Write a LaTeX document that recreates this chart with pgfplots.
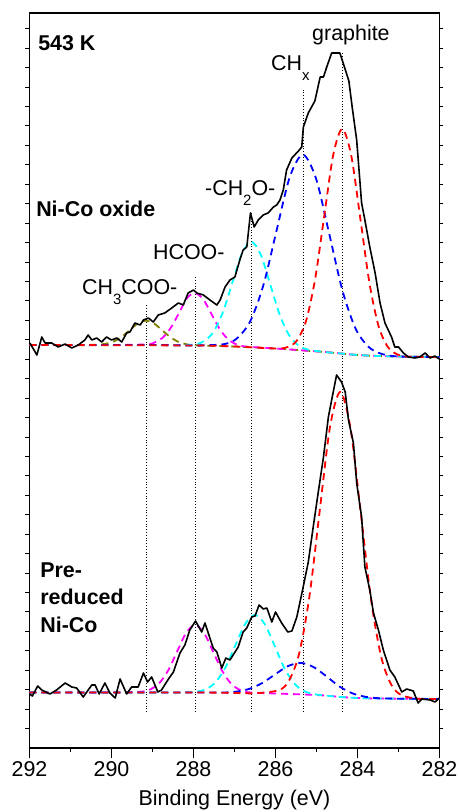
\documentclass[border=0pt]{standalone}
\usepackage{fontspec}
\setmainfont{Liberation Sans}
\usepackage{pgfplots}
\pgfplotsset{compat=1.18}
\definecolor{olv}{RGB}{128,128,0}
\definecolor{cyn}{RGB}{0,255,255}
\definecolor{mag}{RGB}{255,0,255}
\definecolor{rd}{RGB}{255,0,0}
\definecolor{bl}{RGB}{0,0,255}
\newcommand{\fs}{\fontsize{21.5}{25}\selectfont}
\begin{document}
\begin{tikzpicture}
\begin{axis}[
  scale only axis, width=410bp, height=735bp,
  xmin=282, xmax=292, x dir=reverse, ymin=0, ymax=735,
  axis line style={line width=1.4bp},
  xtick={283,285,...,291}, xticklabels={},
  extra x ticks={282,284,...,292},
  extra tick style={major tick length=10bp},
  xtick pos=bottom, tick align=outside,
  major tick length=4bp,
  every tick/.style={line width=1.3bp, black},
  ytick={19.44,38.88,...,730}, yticklabels={}, ytick pos=both,
  y tick style={line width=0.9bp},
  xticklabel style={font=\fs, /pgf/number format/assume math mode=true},
  /pgf/number format/assume math mode=true,
  xlabel={Binding Energy (eV)},
  xlabel style={font=\fs, at={(axis description cs:0.5,0)}, anchor=base, yshift=-57bp},
  every axis plot/.append style={line join=round},
  comp/.style={dash pattern=on 7bp off 5bp, line width=1.8bp, smooth},
]
% vertical dotted guide lines
\addplot[black, line width=0.6bp, dash pattern=on 0.8bp off 2bp] coordinates {(289.16,36) (289.16,444)};
\addplot[black, line width=0.6bp, dash pattern=on 0.8bp off 2bp] coordinates {(287.96,36) (287.96,471)};
\addplot[black, line width=0.6bp, dash pattern=on 0.8bp off 2bp] coordinates {(286.59,36) (286.59,536)};
\addplot[black, line width=0.6bp, dash pattern=on 0.8bp off 2bp] coordinates {(285.33,36) (285.33,659)};
\addplot[black, line width=0.6bp, dash pattern=on 0.8bp off 2bp] coordinates {(284.37,36) (284.37,695)};

% ---------------- upper spectrum components ----------------
% olive CH3COO-
\addplot[olv, comp] coordinates {(292,403) (291,403) (290.36,403.3) (290.16,404.1) (289.96,406.3) (289.76,410.9) (289.56,417.7) (289.36,424.4) (289.16,427.3) (288.96,424.4) (288.76,417.6) (288.56,410.7) (288.36,406.0) (288.16,403.6) (287.96,402.7) (287,401.5) (286,399.5) (285.3,397.5) (284.8,396) (284.4,394.5) (284,393) (283.5,392) (283,391.5) (282,391)};
% magenta HCOO-
\addplot[mag, comp] coordinates {(292,403) (290,403) (289.16,403.6) (288.96,405.3) (288.76,410.0) (288.56,419.8) (288.36,434.5) (288.16,449.8) (287.96,454.9) (287.76,448.5) (287.56,433.8) (287.36,418.9) (287.16,408.8) (286.96,403.7) (286.76,401.6) (286,399.5) (285.3,397.5) (284.8,396) (284.4,394.5) (284,393) (283.5,392) (283,391.5) (282,391)};
% cyan -CH2O-
\addplot[cyn, comp] coordinates {(292,403) (289,403) (288.5,402.75) (287.97,403.6) (287.74,406.9) (287.51,416.3) (287.28,436.1) (287.05,465.6) (286.82,494.3) (286.59,506.3) (286.36,493.4) (286.13,463.8) (285.90,433.5) (285.67,412.9) (285.44,402.5) (285.21,398.4) (284.8,396) (284.4,394.5) (284,393) (283.5,392) (283,391.5) (282,391)};
% blue CHx
\addplot[bl, comp] coordinates {(292,403) (289,403) (288,402.5) (287.25,403.9) (286.93,410.0) (286.61,427.2) (286.29,463.6) (285.97,518.1) (285.65,571.2) (285.33,593.3) (285.01,569.3) (284.69,514.3) (284.37,457.9) (284.05,419.6) (283.73,401.1) (283.41,394.1) (283,391.5) (282,391)};
% red graphite
\addplot[rd, comp] coordinates {(292,403) (288,402.5) (287,401.5) (286,399.5) (285.69,401.1) (285.47,407.9) (285.25,427.8) (285.03,469.7) (284.81,532.3) (284.59,593.5) (284.37,619.1) (284.15,591.9) (283.93,529.2) (283.71,465.4) (283.49,422.4) (283.27,401.6) (283.05,394.0) (282.8,391.4) (282,391)};

% ---------------- lower spectrum components ----------------
% magenta
\addplot[mag, comp] coordinates {(292,55.5) (290,55.5) (289.28,56.3) (289.06,58.5) (288.84,64.6) (288.62,77.4) (288.40,96.4) (288.18,115.1) (287.96,123.0) (287.74,114.9) (287.52,96.2) (287.30,77.1) (287.08,64.2) (286.86,57.9) (286.64,55.6) (286,54.5) (285.3,53.5) (284.8,52.5) (284.4,51) (284,50) (283.5,49.5) (282,49)};
% cyan
\addplot[cyn, comp] coordinates {(292,55.5) (288.5,55.5) (287.94,56.3) (287.70,58.8) (287.46,65.8) (287.22,80.5) (286.98,102.5) (286.74,124.0) (286.50,133.1) (286.26,123.7) (286.02,102.0) (285.78,79.6) (285.54,64.4) (285.30,56.9) (285.06,53.9) (284.8,52.5) (284.4,51) (284,50) (283.5,49.5) (282,49)};
% blue
\addplot[bl, comp] coordinates {(292,55.5) (288,55.5) (287.27,55.5) (286.955,56.4) (286.64,59.1) (286.325,64.9) (286.01,73.6) (285.695,81.9) (285.38,85.1) (285.065,80.8) (284.75,71.4) (284.435,61.4) (284.12,54.6) (283.805,51.2) (283.49,49.8) (283,49.3) (282,49)};
% red
\addplot[rd, comp] coordinates {(292,55.5) (288,55.5) (287,55) (286.5,54.75) (285.92,57.8) (285.67,67.4) (285.42,94.9) (285.17,152.3) (284.92,237.7) (284.67,321.2) (284.42,356.1) (284.17,319.6) (283.92,235.0) (283.67,148.7) (283.42,90.7) (283.17,62.8) (282.92,52.7) (282.5,49.2) (282,49)};

% ---------------- measured spectra ----------------
\addplot[black, line width=1.6bp] coordinates {(291.99,405) (291.82,393) (291.70,411) (291.62,405) (291.46,405) (291.30,401) (291.13,404) (290.97,400) (290.81,403) (290.65,408) (290.57,413) (290.48,408) (290.36,410) (290.24,406) (290.12,411) (290.00,408) (289.87,410) (289.75,406) (289.63,415) (289.55,416) (289.43,425) (289.30,423) (289.22,428) (289.10,430) (288.98,426) (288.86,433) (288.70,435) (288.53,440) (288.37,445) (288.25,443) (288.13,455) (288.00,458) (287.92,455) (287.76,453) (287.60,448) (287.43,443) (287.35,448) (287.23,461) (287.11,468) (286.99,471) (286.87,488) (286.79,498) (286.70,501) (286.61,535) (286.52,521) (286.42,528) (286.30,533) (286.18,535) (286.05,541) (285.97,543) (285.89,548) (285.81,558) (285.73,578) (285.60,590) (285.44,597) (285.36,601) (285.32,621) (285.20,635) (285.04,647) (284.91,671) (284.83,671) (284.75,681) (284.63,695) (284.43,695) (284.35,685) (284.21,667) (284.13,641) (284.02,608) (283.90,545) (283.82,528) (283.70,501) (283.57,475) (283.45,445) (283.33,425) (283.17,411) (283.09,401) (283.00,401) (282.88,395) (282.76,391) (282.60,390) (282.48,391) (282.35,395) (282.23,390) (282.11,392) (282.01,389)};
\addplot[black, line width=1.6bp] coordinates {(292.00,54) (291.93,52) (291.80,62) (291.70,58) (291.50,54) (291.34,58) (291.13,65) (290.97,61) (290.85,60) (290.69,51) (290.48,63) (290.40,63) (290.30,54) (290.16,65) (290.04,55) (289.91,50) (289.79,69) (289.63,54) (289.51,61) (289.35,61) (289.22,75) (289.12,66) (289.02,71) (288.87,56) (288.78,58) (288.61,69) (288.49,76) (288.33,95) (288.21,103) (288.09,118) (287.95,127) (287.80,116) (287.72,125) (287.52,100) (287.43,96) (287.31,80) (287.21,90) (287.11,88) (286.91,101) (286.79,116) (286.70,120) (286.58,131) (286.50,132) (286.40,143) (286.30,139) (286.21,140) (286.09,126) (286.00,136) (285.85,125) (285.70,116) (285.60,117) (285.48,131) (285.34,158) (285.20,186) (285.08,221) (284.96,255) (284.83,291) (284.71,331) (284.63,348) (284.51,373) (284.39,366) (284.30,356) (284.22,328) (284.10,305) (284.02,265) (283.90,231) (283.82,181) (283.70,158) (283.61,135) (283.49,118) (283.37,98) (283.21,78) (283.09,71) (282.92,56) (282.80,59) (282.64,57) (282.52,45) (282.43,49) (282.23,48) (282.11,46) (282.00,50)};

% ---------------- labels ----------------
\node[font=\fs\bfseries, anchor=base west, inner sep=0] at (axis cs:291.79,697) {543 K};
\node[font=\fs, anchor=base, inner sep=0] at (axis cs:284.16,707) {graphite};
\node[font=\fs, anchor=base west, inner sep=0] at (axis cs:286.11,677) {CH\raisebox{-0.45em}{\fontsize{15}{15}\selectfont x}};
\node[font=\fs, anchor=base west, inner sep=0] at (axis cs:287.72,552) {-CH\raisebox{-0.45em}{\fontsize{15}{15}\selectfont 2}O-};
\node[font=\fs, anchor=base west, inner sep=0] at (axis cs:288.99,488) {HCOO-};
\node[font=\fs, anchor=base west, inner sep=0] at (axis cs:290.72,453) {CH\raisebox{-0.45em}{\fontsize{15}{15}\selectfont 3}COO-};
\node[font=\fs\bfseries, anchor=base west, inner sep=0] at (axis cs:291.84,531) {Ni-Co oxide};
\node[font=\fs\bfseries, anchor=base west, inner sep=0] at (axis cs:291.74,170) {Pre-};
\node[font=\fs\bfseries, anchor=base west, inner sep=0] at (axis cs:291.74,143) {reduced};
\node[font=\fs\bfseries, anchor=base west, inner sep=0] at (axis cs:291.74,115) {Ni-Co};

\coordinate (ll) at (axis cs:292,0);
\coordinate (ur) at (axis cs:282,735);
\end{axis}
\pgfresetboundingbox
\path[use as bounding box] ([shift={(-29.5bp,-64bp)}]ll) rectangle ([shift={(19.5bp,13bp)}]ur);
\end{tikzpicture}
\end{document}
